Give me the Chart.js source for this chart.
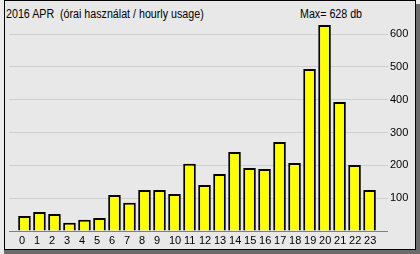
<!DOCTYPE html>
<html>
<head>
<meta charset="utf-8">
<script src="https://cdn.jsdelivr.net/npm/chart.js@4.4.1/dist/chart.umd.min.js"></script>
<style>
  html, body { margin: 0; padding: 0; }
  body { width: 420px; height: 254px; background: #ececec; position: relative; overflow: hidden;
         font-family: 'Liberation Sans', Arial, sans-serif; }
  #shadowB { position: absolute; left: 4px; top: 250px; width: 416px; height: 4px; background: #6b6b6b; }
  #shadowR { position: absolute; left: 416px; top: 4px; width: 4px; height: 250px; background: #6b6b6b; }
  #panel { position: absolute; left: 4px; top: 0; width: 410px; height: 248px; border: 1px solid #000; background: #e8e8e8; }
  #wrap { position: absolute; left: 0; top: 0; width: 420px; height: 254px; }
  .txt { position: absolute; font-size: 12px; line-height: 12px; color: #000; white-space: pre;
         transform: scaleX(0.89); transform-origin: 0 0; }
</style>
</head>
<body>
<div id="shadowB"></div>
<div id="shadowR"></div>
<div id="panel"></div>
<div class="txt" id="title" style="left:6px; top:8px;"></div>
<div class="txt" id="maxLabel" style="left:300px; top:8px;"></div>
<div id="wrap"><canvas id="c" width="420" height="254"></canvas></div>
<script>
const titleText = '2016 APR  (órai használat / hourly usage)';
const hours = [0,1,2,3,4,5,6,7,8,9,10,11,12,13,14,15,16,17,18,19,20,21,22,23];
const usage = [46,58,52,25,34,40,110,86,125,125,113,205,140,174,241,192,189,271,207,494,628,393,201,125];
const yTicks = [100,200,300,400,500,600];

const maxVal = Math.max(...usage);
document.getElementById('title').textContent = titleText;
document.getElementById('maxLabel').textContent = 'Max= ' + maxVal + ' db';

const FONT = { family: "'Liberation Sans', Arial, sans-serif", size: 11 };

new Chart(document.getElementById('c'), {
  type: 'bar',
  data: {
    labels: hours,
    datasets: [{
      data: usage,
      backgroundColor: '#ffff00',
      borderColor: '#000000',
      borderWidth: 2,
      categoryPercentage: 1,
      barPercentage: 0.84
    }]
  },
  options: {
    responsive: false,
    animation: false,
    devicePixelRatio: 1,
    layout: { padding: { left: 9, right: 0, top: 21, bottom: 0 } },
    plugins: { legend: { display: false }, tooltip: { enabled: false }, title: { display: false } },
    scales: {
      x: {
        type: 'linear',
        min: -1.03,
        max: 24.23,
        offset: false,
        grid: { display: false, drawTicks: false },
        border: { display: false },
        afterFit: (s) => { s.height = 23; },
        ticks: {
          stepSize: 1,
          includeBounds: false,
          autoSkip: false,
          maxRotation: 0,
          minRotation: 0,
          align: 'start',
          labelOffset: -5.5,
          padding: 3,
          color: '#000',
          font: FONT,
          callback: (v) => (Number.isInteger(v) && hours.includes(v)) ? String(v) : ''
        }
      },
      y: {
        position: 'right',
        min: 0,
        max: 640,
        border: { display: false },
        afterFit: (s) => { s.width = 32; },
        grid: {
          drawTicks: false,
          color: (ctx) => ctx.tick && ctx.tick.value === 0 ? '#808080' : '#cfcfcf',
          lineWidth: 1
        },
        ticks: {
          stepSize: 100,
          includeBounds: false,
          autoSkip: false,
          padding: 2,
          color: '#000',
          font: FONT,
          callback: (v) => yTicks.includes(v) ? String(v) : ''
        }
      }
    }
  }
});
</script>
</body>
</html>
